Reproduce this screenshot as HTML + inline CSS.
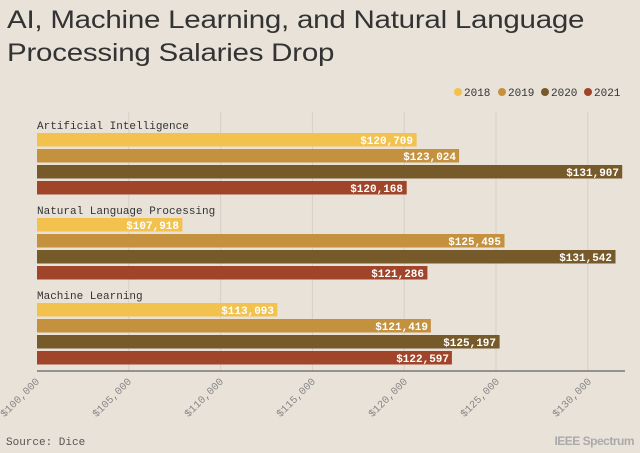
<!DOCTYPE html>
<html><head><meta charset="utf-8"><style>
html,body{margin:0;padding:0;background:#e8e2d9;}
body{width:640px;height:453px;position:relative;overflow:hidden;}
.t{position:absolute;left:7px;top:4px;font:25px/33px "Liberation Sans",sans-serif;color:#333;letter-spacing:-0.2px;transform:scaleX(1.18);transform-origin:0 0;white-space:nowrap}
</style></head><body>
<div class="t">AI, Machine Learning, and Natural Language<br>Processing Salaries Drop</div>
<svg width="640" height="453" style="position:absolute;left:0;top:0" font-family="Liberation Mono, monospace">
<g font-size="11" fill="#333">
<circle cx="458" cy="92" r="4" fill="#f2c14e"/><text x="464" y="96">2018</text>
<circle cx="502" cy="92" r="4" fill="#c4913f"/><text x="508" y="96">2019</text>
<circle cx="545" cy="92" r="4" fill="#775a2a"/><text x="551" y="96">2020</text>
<circle cx="588" cy="92" r="4" fill="#a0442a"/><text x="594" y="96">2021</text>
</g>
<g stroke="#d6d0c6" stroke-width="1">
<line x1="128.8" y1="112" x2="128.8" y2="371"/><line x1="220.6" y1="112" x2="220.6" y2="371"/>
<line x1="312.4" y1="112" x2="312.4" y2="371"/><line x1="404.2" y1="112" x2="404.2" y2="371"/>
<line x1="496" y1="112" x2="496" y2="371"/><line x1="587.8" y1="112" x2="587.8" y2="371"/>
</g>
<g font-size="11" fill="#333">
<text x="37" y="129">Artificial Intelligence</text>
<text x="37" y="214">Natural Language Processing</text>
<text x="37" y="299">Machine Learning</text>
</g>
<g font-size="11" font-weight="bold" fill="#fff" text-anchor="end">
<rect x="37" y="133" width="379.6" height="13.5" fill="#f2c14e"/><text x="413" y="144">$120,709</text>
<rect x="37" y="149" width="422.1" height="13.5" fill="#c4913f"/><text x="456" y="160">$123,024</text>
<rect x="37" y="165" width="585.2" height="13.5" fill="#775a2a"/><text x="619" y="176">$131,907</text>
<rect x="37" y="181" width="369.7" height="13.5" fill="#a0442a"/><text x="403" y="192">$120,168</text>

<rect x="37" y="218" width="145.4" height="13.5" fill="#f2c14e"/><text x="179" y="229">$107,918</text>
<rect x="37" y="234" width="467.5" height="13.5" fill="#c4913f"/><text x="501" y="245">$125,495</text>
<rect x="37" y="250" width="578.5" height="13.5" fill="#775a2a"/><text x="612" y="261">$131,542</text>
<rect x="37" y="266" width="390.4" height="13.5" fill="#a0442a"/><text x="424" y="277">$121,286</text>

<rect x="37" y="303" width="240.3" height="13.5" fill="#f2c14e"/><text x="274" y="314">$113,093</text>
<rect x="37" y="319" width="393.9" height="13.5" fill="#c4913f"/><text x="428" y="330">$121,419</text>
<rect x="37" y="335" width="462.6" height="13.5" fill="#775a2a"/><text x="496" y="346">$125,197</text>
<rect x="37" y="351" width="414.9" height="13.5" fill="#a0442a"/><text x="449" y="362">$122,597</text>
</g>
<line x1="37" y1="371" x2="625" y2="371" stroke="#777" stroke-width="1.5"/>
<g font-size="10.5" fill="#888" text-anchor="end">
<text transform="translate(40,382) rotate(-45)">$100,000</text>
<text transform="translate(132,382) rotate(-45)">$105,000</text>
<text transform="translate(224,382) rotate(-45)">$110,000</text>
<text transform="translate(316,382) rotate(-45)">$115,000</text>
<text transform="translate(408,382) rotate(-45)">$120,000</text>
<text transform="translate(500,382) rotate(-45)">$125,000</text>
<text transform="translate(592,382) rotate(-45)">$130,000</text>
</g>
<text x="6" y="445" font-size="11" fill="#555">Source: Dice</text>
<text x="634" y="445" font-size="12" font-weight="bold" fill="#aaa" text-anchor="end" font-family="Liberation Sans, sans-serif" letter-spacing="-0.5">IEEE Spectrum</text>
</svg>
</body></html>
